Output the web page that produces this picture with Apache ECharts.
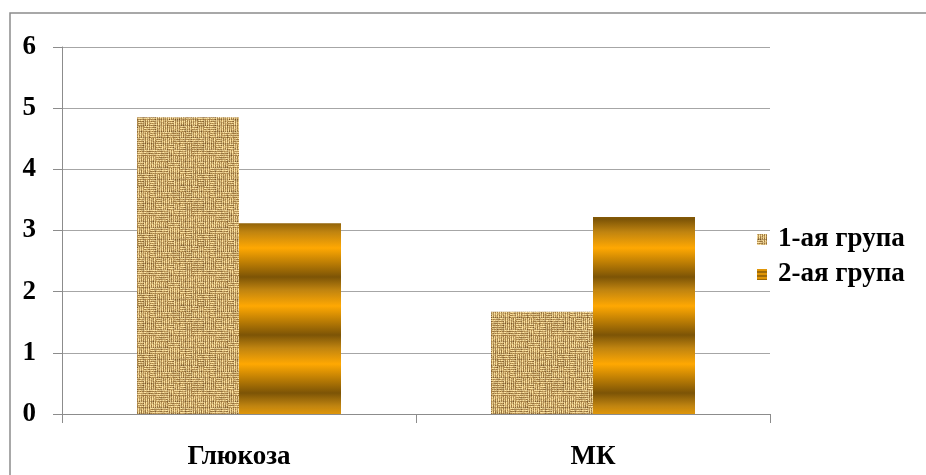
<!DOCTYPE html>
<html>
<head>
<meta charset="utf-8">
<script src="https://cdn.jsdelivr.net/npm/echarts@6/dist/echarts.min.js"></script>
<style>
html,body{margin:0;padding:0;background:#fff;}
#chart{width:926px;height:475px;}
</style>
</head>
<body>
<div id="chart"></div>
<script>
// Data
var categories = ['Глюкоза', 'МК'];
var seriesNames = ['1-ая група', '2-ая група'];
var group1 = [4.85, 1.67];
var group2 = [3.12, 3.22];
var yTicks = { min: 0, max: 6, interval: 1 };

// Burlap-like woven texture tile: small thread blocks with mixed orientation
function burlapTile() {
  var size = 60, blk = 6, c = document.createElement('canvas');
  c.width = size; c.height = size;
  var ctx = c.getContext('2d');
  var img = ctx.createImageData(size, size);
  function hash(x, y) {
    var h = (x * 374761393 + y * 668265263) | 0;
    h = (h ^ (h >>> 13)) * 1274126177 | 0;
    return ((h ^ (h >>> 16)) >>> 0) / 4294967295;
  }
  for (var y = 0; y < size; y++) {
    for (var x = 0; x < size; x++) {
      var qx = Math.floor(x / blk), qy = Math.floor(y / blk);
      var horiz = hash(qx + 101, qy + 7) < 0.5;
      var p = horiz ? y % blk : x % blk;
      var a = horiz ? x % blk : y % blk;
      var r, g, b;
      if (p % 2 === 0) { r = 234; g = 208; b = 146; }
      else { r = 176; g = 138; b = 78; }
      if (a === blk - 1) { r -= 30; g -= 30; b -= 22; }
      var n = (hash(x, y) - 0.5) * 56;
      var i = (y * size + x) * 4;
      img.data[i] = Math.max(0, Math.min(255, r + n));
      img.data[i + 1] = Math.max(0, Math.min(255, g + n));
      img.data[i + 2] = Math.max(0, Math.min(255, b + n * 0.8));
      img.data[i + 3] = 255;
    }
  }
  ctx.putImageData(img, 0, 0);
  return c;
}

// Golden horizontal bands
function bandTile(period, brightAt, darkAt) {
  var c = document.createElement('canvas');
  c.width = 4; c.height = period;
  var ctx = c.getContext('2d');
  var grd = ctx.createLinearGradient(0, 0, 0, period);
  grd.addColorStop(0, '#c08410');
  grd.addColorStop(brightAt / period, '#ffa802');
  grd.addColorStop(darkAt / period, '#7c5406');
  grd.addColorStop(1, '#c08410');
  ctx.fillStyle = grd;
  ctx.fillRect(0, 0, 4, period);
  return c;
}

var burlap = { image: burlapTile(), repeat: 'repeat' };
var bands = { image: bandTile(58, 16, 45), repeat: 'repeat' };
var bandsSmall = { image: bandTile(4, 1, 3), repeat: 'repeat' };

var font = 'Liberation Serif';
var chart = echarts.init(document.getElementById('chart'), null, { renderer: 'canvas' });
chart.setOption({
  animation: false,
  backgroundColor: '#fff',
  graphic: [{
    type: 'rect',
    shape: { x: 10, y: 13, width: 940, height: 480 },
    style: { fill: 'none', stroke: '#8c8c8c', lineWidth: 1.5 },
    silent: true, z: -1
  }],
  grid: { left: 62, right: 156, top: 47, bottom: 61 },
  legend: {
    orient: 'vertical',
    left: 752,
    top: 221,
    itemWidth: 10,
    itemHeight: 11,
    itemGap: 8,
    icon: 'rect',
    textStyle: { fontFamily: font, fontWeight: 'bold', fontSize: 27, color: '#000', padding: [0, 0, 0, 6] },
    data: [
      { name: seriesNames[0], itemStyle: { color: burlap } },
      { name: seriesNames[1], itemStyle: { color: bandsSmall } }
    ]
  },
  xAxis: {
    type: 'category',
    data: categories,
    axisLine: { lineStyle: { color: '#8c8c8c', width: 1 } },
    axisTick: { show: true, length: 9, lineStyle: { color: '#8c8c8c' } },
    axisLabel: { margin: 30, fontFamily: font, fontWeight: 'bold', fontSize: 27, color: '#000' }
  },
  yAxis: {
    type: 'value',
    min: yTicks.min, max: yTicks.max, interval: yTicks.interval,
    axisLine: { show: true, lineStyle: { color: '#8c8c8c', width: 1 } },
    axisTick: { show: true, length: 9, lineStyle: { color: '#8c8c8c' } },
    splitLine: { lineStyle: { color: '#a6a6a6', width: 1 } },
    axisLabel: { margin: 26, fontFamily: font, fontWeight: 'bold', fontSize: 27, color: '#000' }
  },
  series: [
    {
      name: seriesNames[0], type: 'bar', data: group1,
      barWidth: 102, barGap: '0%',
      itemStyle: { color: burlap }
    },
    {
      name: seriesNames[1], type: 'bar', data: group2,
      barWidth: 102, barGap: '0%',
      itemStyle: { color: bands }
    }
  ]
});
</script>
</body>
</html>
